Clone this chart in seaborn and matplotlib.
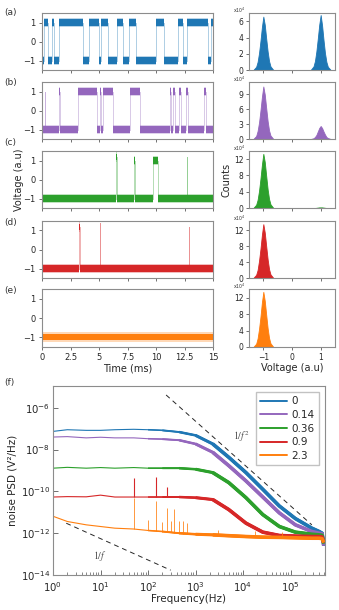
import numpy as np
import pandas as pd
import seaborn as sns
import matplotlib.pyplot as plt
import matplotlib.ticker as mticker

# ---------------- data ----------------
# time traces: switching times (ms) and the level held after each switch
t_a = [0, 0.15, 0.52, 0.87, 1.05, 1.45, 3.63, 4.13, 5.0, 5.15, 5.76, 6.54, 7.12,
       7.65, 8.28, 10.03, 10.7, 11.92, 12.35, 12.73, 14.53, 14.83, 15]
lvl_a = [-1, 1, -1, 1, -1, 1, -1, 1, -1, 1, -1, 1, -1, 1, -1, 1, -1, 1, -1, 1, -1, 1, 1]

t_b = [0, 0.22, 0.26, 1.5, 1.54, 3.2, 4.8, 5.09, 5.17, 5.38, 6.25, 7.7, 8.58, 11.19,
       11.34, 11.48, 11.63, 11.98, 12.21, 12.65, 12.79, 14.24, 14.39, 15]
lvl_b = [-1, 1, -1, 1, -1, 1, -1, 1, -1, 1, -1, 1, -1, 1, -1, 1, -1, 1, -1, 1, -1, 1, -1, -1]

t_c = [0, 6.52, 6.56, 8.08, 8.2, 9.74, 10.17, 12.71, 12.75, 15]
lvl_c = [-1, 1.2, -1, 1, -1, 1, -1, 1.2, -1, -1]

t_d = [0, 3.28, 3.30, 5.09, 5.11, 12.86, 12.88, 15]
lvl_d = [-1, 1.2, -1, 1.4, -1, 1.2, -1, -1]

t_e = [0, 15]
lvl_e = [-1, -1]

# histograms (counts in units of 1e4)
hist_v = [-1.35, -1.25, -1.2, -1.15, -1.1, -1.05, -1.0, -0.95, -0.9, -0.85, -0.8, -0.75, -0.65,
          0.65, 0.75, 0.8, 0.85, 0.9, 0.95, 1.0, 1.05, 1.1, 1.15, 1.2, 1.25, 1.35]
cnt_a = [0, 0.4, 1.0, 2.1, 3.6, 5.3, 6.6, 5.6, 3.9, 2.3, 1.1, 0.45, 0,
         0, 0.45, 1.1, 2.3, 3.9, 5.6, 6.8, 5.5, 3.7, 2.1, 1.0, 0.4, 0]
cnt_b = [0, 0.6, 1.6, 3.3, 5.7, 8.4, 10.5, 8.9, 6.2, 3.6, 1.7, 0.7, 0,
         0, 0.15, 0.4, 0.8, 1.5, 2.2, 2.6, 2.2, 1.5, 0.9, 0.4, 0.2, 0]
cnt_c = [0, 0.8, 2.0, 4.2, 7.2, 10.6, 13.3, 11.3, 7.9, 4.6, 2.2, 0.9, 0,
         0, 0, 0, 0.05, 0.1, 0.15, 0.15, 0.15, 0.1, 0.05, 0, 0, 0]
cnt_d = [0, 0.8, 2.0, 4.3, 7.3, 10.8, 13.5, 11.4, 8.0, 4.7, 2.2, 0.9, 0,
         0, 0, 0, 0, 0, 0, 0, 0, 0, 0, 0, 0, 0]
cnt_e = [0, 0.8, 2.1, 4.4, 7.4, 10.9, 13.5, 11.3, 7.9, 4.6, 2.2, 0.9, 0,
         0, 0, 0, 0, 0, 0, 0, 0, 0, 0, 0, 0, 0]

# noise PSD, log10 values at these frequencies (Hz)
psd_f = [1, 2, 5, 10, 20, 50, 100, 200, 450, 1e3, 2.3e3, 5e3, 1.15e4, 2.6e4, 5.8e4,
         1.26e5, 2.8e5, 4e5, 4.6e5, 5e5]
psd_0 = [-7.13, -7.05, -7.08, -7.08, -7.05, -7.03, -7.05, -7.08, -7.16, -7.32, -7.73, -8.37,
         -9.1, -9.9, -10.7, -11.3, -11.76, -11.92, -12.0, -12.6]
psd_014 = [-7.4, -7.38, -7.44, -7.41, -7.44, -7.44, -7.48, -7.5, -7.55, -7.73, -8.13, -8.77,
           -9.5, -10.27, -11.03, -11.6, -11.92, -12.0, -12.03, -12.6]
psd_036 = [-8.89, -8.85, -8.89, -8.86, -8.89, -8.86, -8.89, -8.89, -8.89, -8.94, -9.1, -9.58,
           -10.3, -11.11, -11.68, -11.95, -12.05, -12.08, -12.1, -12.5]
psd_09 = [-10.27, -10.25, -10.26, -10.18, -10.27, -10.27, -10.27, -10.27, -10.27, -10.3, -10.39,
          -10.87, -11.52, -11.95, -12.11, -12.14, -12.16, -12.16, -12.18, -12.45]
psd_23 = [-11.19, -11.44, -11.6, -11.68, -11.76, -11.8, -11.87, -11.92, -12.0, -12.05, -12.08,
          -12.12, -12.16, -12.19, -12.2, -12.22, -12.24, -12.24, -12.26, -12.45]
series = ["0", "0.14", "0.36", "0.9", "2.3"]

# line-frequency spikes (Hz, log10 base, log10 top)
red_spk_f = [50, 150, 250]
red_spk_base = [-10.27, -10.27, -10.27]
red_spk_top = [-9.37, -9.31, -9.77]
org_spk_f = [50, 100, 150, 200, 250, 300, 350, 450, 550, 650, 3000, 18000, 65000]
org_spk_base = [-11.8, -11.87, -11.9, -11.92, -11.94, -11.96, -11.97, -12.0, -12.02, -12.03, -12.09, -12.18, -12.2]
org_spk_top = [-10.3, -11.39, -10.45, -11.47, -10.8, -11.4, -10.82, -11.4, -11.4, -11.52, -11.85, -11.9, -11.95]

# guide lines
g2_f = [240, 2.8e5]
g2_p = [4.1e-6, 2.5e-12]
g1_f = [1.9, 300]
g1_p = [3.0e-12, 1.7e-14]

colors = ["#1f77b4", "#9467bd", "#2ca02c", "#d62728", "#ff7f0e"]

# ---------------- style ----------------
sns.set_style("ticks")
plt.rc('font', family='DejaVu Sans', size=6)
plt.rc('axes', linewidth=0.8, edgecolor='0.55')
plt.rc('xtick', color='0.35', labelcolor='0.15')
plt.rc('ytick', color='0.35', labelcolor='0.15')

W, H = 339, 610
fig = plt.figure(figsize=(W / 100, H / 100), dpi=100)


def px_axes(x0, y0, x1, y1):
    return fig.add_axes([x0 / W, 1 - y1 / H, (x1 - x0) / W, (y1 - y0) / H])


rows = [(13, 70), (82, 139), (151, 208), (221, 278), (289, 347)]
traces = [(t_a, lvl_a), (t_b, lvl_b), (t_c, lvl_c), (t_d, lvl_d), (t_e, lvl_e)]
hists = [cnt_a, cnt_b, cnt_c, cnt_d, cnt_e]
hist_ylim = [7.05, 11.4, 14.0, 14.3, 14.2]
hist_ticks = [[0, 2, 4, 6], [0, 3, 6, 9], [0, 4, 8, 12], [0, 4, 8, 12], [0, 4, 8, 12]]
panel_lab = ["(a)", "(b)", "(c)", "(d)", "(e)"]
lab_y = [12, 82, 143, 223, 290]

for i, (y0, y1) in enumerate(rows):
    col = colors[i]
    t, lv = traces[i]
    lv = np.array(lv, dtype=float)

    ax = px_axes(42, y0, 213, y1)
    ax.fill_between(t, lv - 0.26, lv + 0.26, step='post', color=col, alpha=0.3, lw=0)
    ax.fill_between(t, lv - 0.16, lv + 0.16, step='post', color=col, lw=0)
    sns.lineplot(x=t, y=lv, drawstyle='steps-post', color=col, lw=0.5, alpha=0.5,
                 estimator=None, ax=ax)
    ax.set_xlim(0, 15)
    ax.set_ylim(-1.5, 1.5)
    ax.set_yticks([-1, 0, 1])
    ax.set_yticklabels(["\u22121", "0", "1"])
    ax.set_xticks([0, 2.5, 5, 7.5, 10, 12.5, 15])
    ax.tick_params(length=2.5, width=0.6, pad=2, labelsize=6)
    ax.set_xlabel("")
    ax.set_ylabel("")
    if i < 4:
        ax.set_xticklabels([])
    else:
        ax.set_xticklabels(["0", "2.5", "5", "7.5", "10", "12.5", "15"])
        ax.set_xlabel("Time (ms)", fontsize=7, labelpad=1)

    hx = px_axes(249, y0, 335, y1)
    hx.fill_between(hist_v, hists[i], 0, color=col, lw=0.6)
    hx.set_xlim(-1.5, 1.5)
    hx.set_ylim(0, hist_ylim[i])
    hx.set_yticks(hist_ticks[i])
    hx.set_xticks([-1, 0, 1])
    hx.tick_params(length=2.5, width=0.6, pad=1.5, labelsize=5.5)
    hx.text(-0.04, 1.04, r"x10$^4$", transform=hx.transAxes, fontsize=3.3,
            ha='right', va='center', color='0.2')
    if i < 4:
        hx.set_xticklabels([])
    else:
        hx.set_xticklabels(["\u22121", "0", "1"])
        hx.set_xlabel("Voltage (a.u)", fontsize=7, labelpad=1)

    fig.text(4 / W, 1 - lab_y[i] / H, panel_lab[i], fontsize=6.5, va='center', color='0.2')

fig.text(19 / W, 1 - 180 / H, "Voltage (a.u)", rotation=90, fontsize=7, ha='center', va='center')
fig.text(227 / W, 1 - 180 / H, "Counts", rotation=90, fontsize=7, ha='center', va='center')
fig.text(4 / W, 1 - 382 / H, "(f)", fontsize=6.5, va='center', color='0.2')

# ---------------- PSD panel ----------------
px = px_axes(53, 386, 325, 575)
psd_all = [psd_0, psd_014, psd_036, psd_09, psd_23]
df = pd.DataFrame({
    "freq": np.tile(psd_f, len(series)),
    "psd": 10 ** np.concatenate(psd_all),
    "dose": np.repeat(series, len(psd_f)),
})
pal = dict(zip(series, colors))
# thin at low frequency, the noisy band gets wider towards high frequency
for fmin, lw in [(0, 0.8), (100, 1.1), (200, 1.4), (450, 1.8), (1000, 2.2), (2300, 2.6)]:
    part = df[df["freq"] >= fmin]
    sns.lineplot(data=part, x="freq", y="psd", hue="dose", palette=pal, lw=lw,
                 estimator=None, sort=False, ax=px, legend=False,
                 solid_capstyle='butt')

px.vlines(red_spk_f, 10 ** np.array(red_spk_base), 10 ** np.array(red_spk_top),
          color=colors[3], lw=0.8)
px.vlines(org_spk_f, 10 ** np.array(org_spk_base), 10 ** np.array(org_spk_top),
          color=colors[4], lw=0.7, alpha=0.8)

px.plot(g2_f, g2_p, ls=(0, (5, 4)), color='0.15', lw=0.7)
px.plot(g1_f, g1_p, ls=(0, (5, 4)), color='0.15', lw=0.7)
px.text(6000, 4e-8, r"$1/f^{2}$", fontsize=7, math_fontfamily='stix', color='0.3', va='center')
px.text(6.9, 8.3e-14, r"$1/f$", fontsize=7, math_fontfamily='stix', color='0.3', va='center')

px.set_xscale('log')
px.set_yscale('log')
px.set_xlim(1, 5.3e5)
px.set_ylim(1e-14, 1.1e-5)
px.set_yticks([1e-14, 1e-12, 1e-10, 1e-8, 1e-6])
px.yaxis.set_minor_locator(mticker.NullLocator())
px.xaxis.set_major_locator(mticker.LogLocator(base=10, numticks=10))
px.xaxis.set_minor_locator(mticker.LogLocator(base=10, subs=np.arange(2, 10), numticks=12))
px.tick_params(which='both', direction='in', labelsize=7.3)
px.tick_params(axis='x', pad=3.5)
px.tick_params(axis='y', pad=2)
px.tick_params(which='major', length=3.5, width=0.6)
px.tick_params(which='minor', length=2, width=0.5)
px.set_xlabel("Frequency(Hz)", fontsize=7.5, labelpad=0)
px.set_ylabel("noise PSD (V\u00b2/Hz)", fontsize=7.5, labelpad=2)

handles = [plt.Line2D([], [], color=c, lw=1.4) for c in colors]
px.legend(handles, series, loc='upper right', fontsize=7.5, frameon=True,
          edgecolor='0.7', fancybox=False, handlelength=2.6, handletextpad=0.4,
          labelspacing=0.35, borderpad=0.4, borderaxespad=0.6)

fig.savefig("out.png", dpi=100)
